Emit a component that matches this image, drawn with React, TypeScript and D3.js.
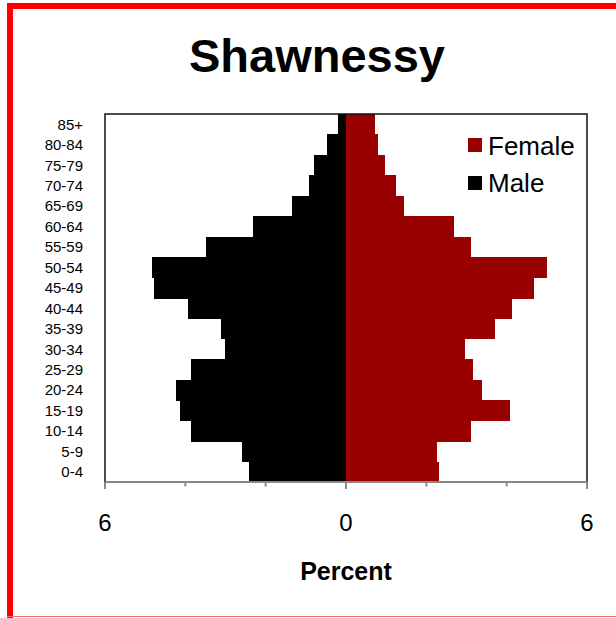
import React from 'react';
import * as d3 from 'd3';

const ageGroups = ['85+', '80-84', '75-79', '70-74', '65-69', '60-64', '55-59', '50-54', '45-49',
  '40-44', '35-39', '30-34', '25-29', '20-24', '15-19', '10-14', '5-9', '0-4'];
const maleValues = [0.21, 0.48, 0.8, 0.91, 1.34, 2.31, 3.49, 4.84, 4.78,
  3.93, 3.12, 3.01, 3.87, 4.24, 4.13, 3.87, 2.58, 2.41];
const femaleValues = [0.71, 0.8, 0.97, 1.24, 1.44, 2.69, 3.12, 5.0, 4.67,
  4.14, 3.71, 2.96, 3.17, 3.39, 4.09, 3.12, 2.26, 2.31];
const majorTicks = [-6, 0, 6];
const minorTicks = [-4, -2, 2, 4];

const W = 616;
const H = 618;
const plot = { left: 105, right: 587, top: 114, bottom: 482 };
const font = 'Arial, "Liberation Sans", sans-serif';

const App: React.FC = () => {
  const x = d3.scaleLinear().domain([-6, 6]).range([plot.left, plot.right]);
  const y = d3.scaleBand().domain(ageGroups).range([plot.top, plot.bottom]).padding(0);
  const bw = y.bandwidth();

  return (
    <svg width={W} height={H} style={{ position: 'absolute', left: 0, top: 0 }} fontFamily={font}>
      <rect width={W} height={H} fill="#fff" />
      {/* outer frame */}
      <rect x={7} y={3} width={6} height={H} fill="#ff0000" />
      <rect x={7} y={3} width={W} height={6} fill="#ff0000" />
      <line x1={7} x2={W} y1={616.5} y2={616.5} stroke="#f07070" strokeWidth={1} />

      <text x={317} y={72} textAnchor="middle" fontSize={47} fontWeight="bold">Shawnessy</text>

      <g shapeRendering="crispEdges">
        {ageGroups.map((g, i) => (
          <g key={g}>
            <rect x={x(-maleValues[i])} y={y(g)} width={x(0) - x(-maleValues[i])} height={bw + 0.5} fill="#000" />
            <rect x={x(0)} y={y(g)} width={x(femaleValues[i]) - x(0)} height={bw + 0.5} fill="#990000" />
          </g>
        ))}
      </g>
      {ageGroups.map((g) => (
        <text key={g} x={83} y={(y(g) ?? 0) + bw / 2} dy="0.36em" textAnchor="end" fontSize={15}>{g}</text>
      ))}

      <rect x={plot.left} y={plot.top} width={plot.right - plot.left} height={plot.bottom - plot.top}
        fill="none" stroke="#111" strokeWidth={1.5} />
      <line x1={plot.left} x2={plot.right} y1={plot.bottom} y2={plot.bottom} stroke="#888" strokeWidth={2} />
      {majorTicks.map((t) => (
        <g key={t}>
          <line x1={x(t)} x2={x(t)} y1={plot.bottom} y2={plot.bottom + 7} stroke="#888" strokeWidth={2} />
          <text x={x(t)} y={531} textAnchor="middle" fontSize={24}>{Math.abs(t)}</text>
        </g>
      ))}
      {minorTicks.map((t) => (
        <line key={t} x1={x(t)} x2={x(t)} y1={plot.bottom} y2={plot.bottom + 4.5} stroke="#888" strokeWidth={2} />
      ))}

      <text x={x(0)} y={580} textAnchor="middle" fontSize={25} fontWeight="bold">Percent</text>

      <rect x={468} y={138} width={14} height={14} fill="#990000" />
      <text x={488} y={154.5} fontSize={26}>Female</text>
      <rect x={468} y={176} width={14} height={14} fill="#000" />
      <text x={488} y={192} fontSize={26}>Male</text>
    </svg>
  );
};

export default App;
